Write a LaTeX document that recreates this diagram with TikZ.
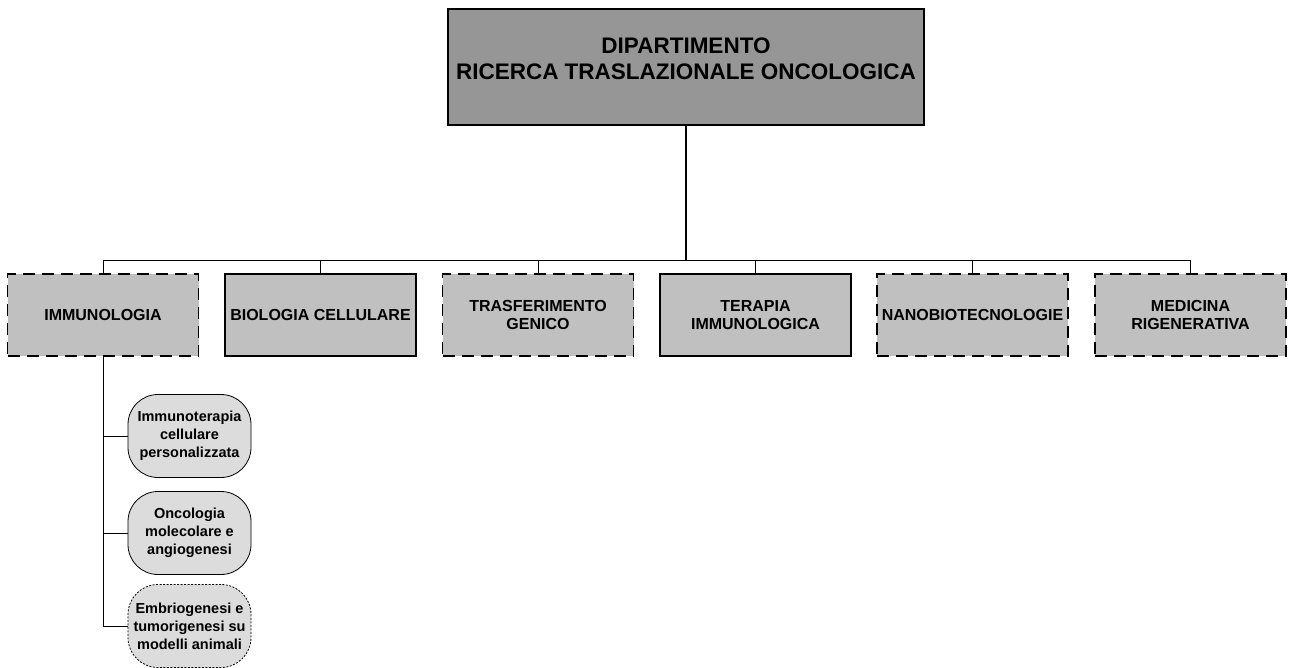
\documentclass[tikz,border=0pt]{standalone}
\usepackage{fontspec}
\setmainfont{Liberation Sans}
\begin{document}
\begin{tikzpicture}[x=1pt,y=-1pt,
  topbox/.style={draw=black,line width=1.5pt,fill=topgray,minimum width=476pt,minimum height=116pt,inner sep=0pt},
  toptext/.style={inner sep=0pt,align=center,font=\fontsize{22.5}{25.5}\selectfont\bfseries},
  midbox/.style={draw=black,line width=1.5pt,fill=midgray,minimum width=191pt,minimum height=82pt,inner sep=0pt,align=center,font=\fontsize{16}{18}\selectfont\bfseries},
  dashbox/.style={midbox,dash pattern=on 12pt off 7pt},
  subbox/.style={draw=black,line width=0.8pt,fill=subgray,rounded corners=30pt,minimum width=123pt,minimum height=83pt,inner sep=0pt,align=center,font=\fontsize{14.5}{18}\selectfont\bfseries},
  dotbox/.style={subbox,dash pattern=on 2pt off 1.5pt},
  conn/.style={draw=black,line width=1pt},
  mainconn/.style={draw=black,line width=1.8pt}
]
\definecolor{topgray}{HTML}{969696}
\definecolor{midgray}{HTML}{C0C0C0}
\definecolor{subgray}{HTML}{DCDCDC}
\useasboundingbox (0,0) rectangle (1290,668);

\node[topbox] (top) at (686,67) {};
\node[toptext] (toplabel) at (686,59) {DIPARTIMENTO\\RICERCA TRASLAZIONALE ONCOLOGICA};

\node[dashbox] (imm) at (103,315) {IMMUNOLOGIA};
\node[midbox] (bio) at (320.5,315) {BIOLOGIA CELLULARE};
\node[dashbox] (tra) at (538,315) {TRASFERIMENTO\\GENICO};
\node[midbox] (ter) at (755.5,315) {TERAPIA\\IMMUNOLOGICA};
\node[dashbox] (nan) at (972.5,315) {NANOBIOTECNOLOGIE};
\node[dashbox] (med) at (1190.5,315) {MEDICINA\\RIGENERATIVA};

\node[subbox] (s1) at (189.5,436) {Immunoterapia\\cellulare\\personalizzata};
\node[subbox] (s2) at (189.5,533) {Oncologia\\molecolare e\\angiogenesi};
\node[dotbox] (s3) at (189.5,626) {Embriogenesi e\\tumorigenesi su\\modelli animali};

\coordinate (bus) at (686,261);
\draw[mainconn] (top.south) -- (bus);
\draw[conn] (imm.north |- bus) -- (med.north |- bus);
\foreach \b in {imm,bio,tra,ter,nan,med}
  \draw[conn] (\b.north |- bus) -- (\b.north);

\draw[conn] (imm.south) -- (imm.south |- s3.west);
\foreach \s in {s1,s2,s3}
  \draw[conn] (imm.south |- \s.west) -- (\s.west);
\end{tikzpicture}
\end{document}
